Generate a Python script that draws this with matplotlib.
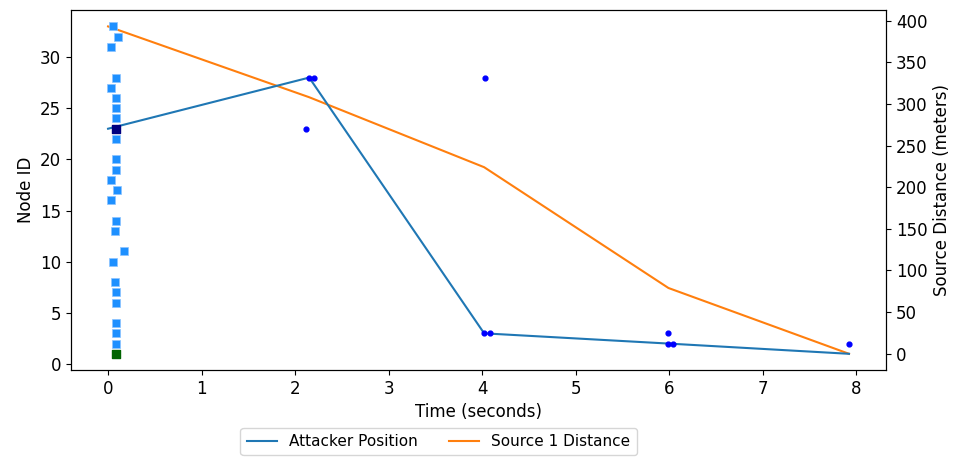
import matplotlib
matplotlib.use("Agg")
import matplotlib.pyplot as plt

# ── Node activity (first packet seen per node) ────────────────────────────────
node_times = [0.05, 0.11, 0.03, 0.08, 0.03, 0.08, 0.08, 0.08, 0.08, 0.08,
              0.09, 0.03, 0.10, 0.03, 0.08, 0.07, 0.17, 0.05, 0.07, 0.08,
              0.08, 0.08, 0.08, 0.09]
node_ids = [33, 32, 31, 28, 27, 26, 25, 24, 22, 20,
            19, 18, 17, 16, 14, 13, 11, 10, 8, 7,
            6, 4, 3, 2]
attacker_start = (0.08, 23)
source_node = (0.09, 1)

# ── Attacker track and distance to source 1 ──────────────────────────────────
track_times = [0.0, 2.15, 4.02, 5.99, 7.92]
attacker_node = [23, 28, 3, 2, 1]
source_dist = [393, 308, 224, 79, 0]

# ── Overheard packets ─────────────────────────────────────────────────────────
hear_times = [2.12, 2.15, 2.20, 4.03, 4.02, 4.08, 5.98, 5.99, 6.04, 7.92]
hear_nodes = [23, 28, 28, 28, 3, 3, 3, 2, 2, 2]

fig = plt.figure(figsize=(9.61, 4.57), dpi=100)
ax = fig.add_subplot(111)
fig.subplots_adjust(left=0.0739, right=0.922, top=0.978, bottom=0.19)
ax2 = ax.twinx()

ln2, = ax2.plot(track_times, source_dist, color="C1", label="Source 1 Distance")
ax2.set_ylabel("Source Distance (meters)", fontsize=12)
ax2.tick_params(labelsize=12)

ax.scatter(node_times, node_ids, marker="s", s=30, color="dodgerblue",
           edgecolors="#8cc4ff", linewidths=0.5, zorder=3)
ax.scatter([attacker_start[0]], [attacker_start[1]], marker="s", s=30,
           color="navy", zorder=4)
ax.scatter([source_node[0]], [source_node[1]], marker="s", s=30,
           color="darkgreen", zorder=4)
ln1, = ax.plot(track_times, attacker_node, color="C0", label="Attacker Position",
               zorder=2)
ax.scatter(hear_times, hear_nodes, s=12, color="blue", zorder=5)

# keep the node axes above the distance line
ax.set_zorder(ax2.get_zorder() + 1)
ax.patch.set_visible(False)

ax.set_xlabel("Time (seconds)", fontsize=12)
ax.set_ylabel("Node ID", fontsize=12)
ax.tick_params(labelsize=12)

ax.legend(handles=[ln1, ln2], loc="upper center", bbox_to_anchor=(0.451, -0.161),
          ncol=2, fontsize=11, borderaxespad=0)

fig.savefig("out.png", dpi=100)
